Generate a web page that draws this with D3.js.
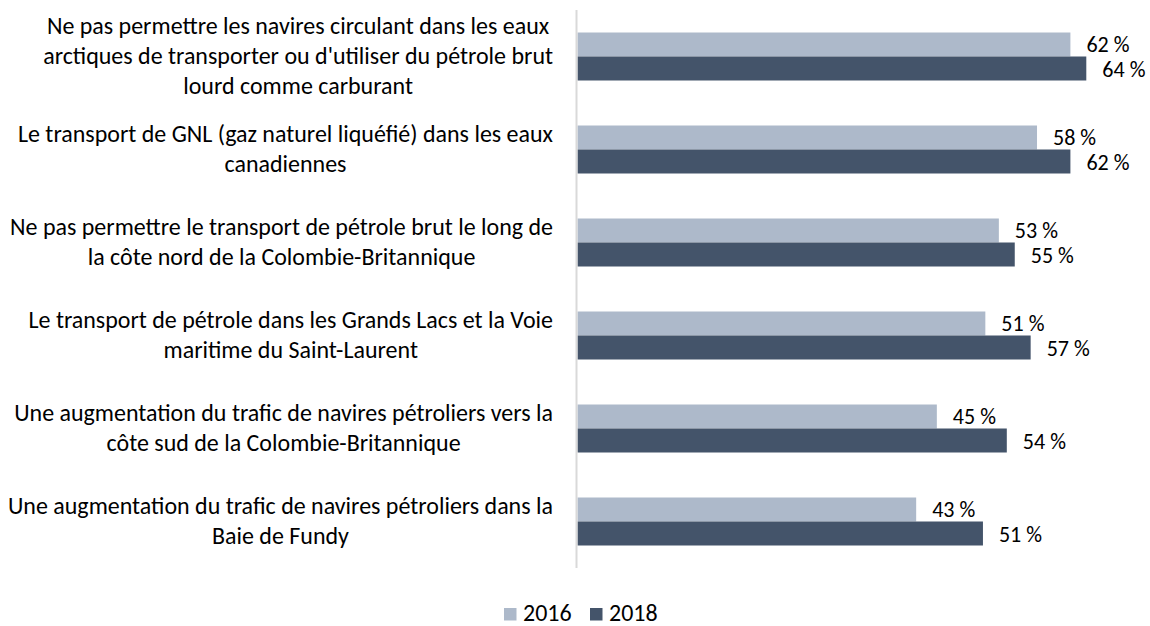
<!DOCTYPE html>
<html>
<head>
<meta charset="utf-8">
<script src="https://cdn.jsdelivr.net/npm/d3@7"></script>
<style>
  html, body { margin: 0; padding: 0; background: #fff; }
  svg { display: block; }
  text { font-family: Carlito, Calibri, "Open Sans", sans-serif; fill: #000; }
</style>
</head>
<body>
<svg id="chart" width="1150" height="626"></svg>
<script>
// ---- data ----
const categories = [
  ["Ne pas permettre les navires circulant dans les eaux", "arctiques de transporter ou d'utiliser du pétrole brut", "lourd comme carburant"],
  ["Le transport de GNL (gaz naturel liquéfié) dans les eaux", "canadiennes"],
  ["Ne pas permettre le transport de pétrole brut le long de", "la côte nord de la Colombie-Britannique"],
  ["Le transport de pétrole dans les Grands Lacs et la Voie", "maritime du Saint-Laurent"],
  ["Une augmentation du trafic de navires pétroliers vers la", "côte sud de la Colombie-Britannique"],
  ["Une augmentation du trafic de navires pétroliers dans la", "Baie de Fundy"]
];
const seriesNames = ["2016", "2018"];
const values2016 = [62, 57.8, 53, 51.3, 45.2, 42.6];
const values2018 = [64, 62, 55, 57, 54, 51];
const seriesColors = ["#adb9ca", "#44546a"];

// ---- layout ----
const svg = d3.select("#chart");

// fit font size so that the reference line width matches the original (~510px)
const probe = svg.append("text").attr("font-size", 20).text(categories[0][1]);
const probeW = probe.node().getComputedTextLength();
probe.remove();
let fs = 20 * 510 / probeW;
fs = Math.max(17, Math.min(25, fs));
const fsVal = fs * 0.92;

const x0 = 577.5;
const x = d3.scaleLinear().domain([0, 70]).range([x0, x0 + 7.95 * 70]);
const idx = categories.map((d, i) => i);
const y = d3.scaleBand().domain(idx).range([10, 568]).paddingInner(0.4839).paddingOuter(0.4839 / 2);
const ySub = d3.scaleBand().domain(seriesNames).range([0, y.bandwidth()]);

const data = idx.map(i => ({ i, vals: [values2016[i], values2018[i]] }));

// bars
const g = svg.append("g");
const groups = g.selectAll("g.grp").data(data).join("g").attr("class", "grp")
  .attr("transform", d => `translate(0,${y(d.i)})`);

groups.selectAll("rect").data(d => d.vals.map((v, k) => ({ v, k })))
  .join("rect")
  .attr("x", x(0))
  .attr("y", d => ySub(seriesNames[d.k]))
  .attr("width", d => x(d.v) - x(0))
  .attr("height", ySub.bandwidth())
  .attr("fill", d => seriesColors[d.k]);

// value labels
const fmt = v => d3.format(".0f")(v) + " %";
groups.selectAll("text.val").data(d => d.vals.map((v, k) => ({ v, k })))
  .join("text").attr("class", "val")
  .attr("x", d => x(d.v) + 16)
  .attr("y", d => ySub(seriesNames[d.k]) + ySub.bandwidth() / 2 + 8 + (d.k === 0 ? -0.5 : 0.5))
  .attr("font-size", fsVal)
  .text(d => fmt(d.v));

// axis line (category axis, no ticks/labels from d3)
const yAxis = d3.axisLeft(y).tickSize(0).tickFormat("");
const axG = svg.append("g").attr("transform", `translate(${x0 - 1},0)`).call(yAxis);
axG.select(".domain").attr("stroke", "#d9d9d9").attr("stroke-width", 2).attr("d", `M0,10V568`);

// category labels, wrapped lines centered within a block right-aligned at x=553
const labelRight = 553;
const lineH = 30;
const labG = svg.append("g");
categories.forEach((lines, i) => {
  const cy = y(i) + y.bandwidth() / 2;
  const tg = labG.append("g");
  const texts = lines.map((ln, k) => tg.append("text")
    .attr("font-size", fs)
    .attr("text-anchor", "middle")
    .attr("y", cy + (k - (lines.length - 1) / 2) * lineH + 7.5)
    .text(ln));
  const maxW = d3.max(texts, t => t.node().getComputedTextLength());
  texts.forEach(t => t.attr("x", labelRight - maxW / 2));
});

// legend
const leg = svg.append("g");
const legX = [504, 590];
seriesNames.forEach((s, k) => {
  leg.append("rect").attr("x", legX[k]).attr("y", 608).attr("width", 12.5).attr("height", 12.5).attr("fill", seriesColors[k]);
  leg.append("text").attr("x", legX[k] + 19).attr("y", 621).attr("font-size", fs).text(s);
});
</script>
</body>
</html>
